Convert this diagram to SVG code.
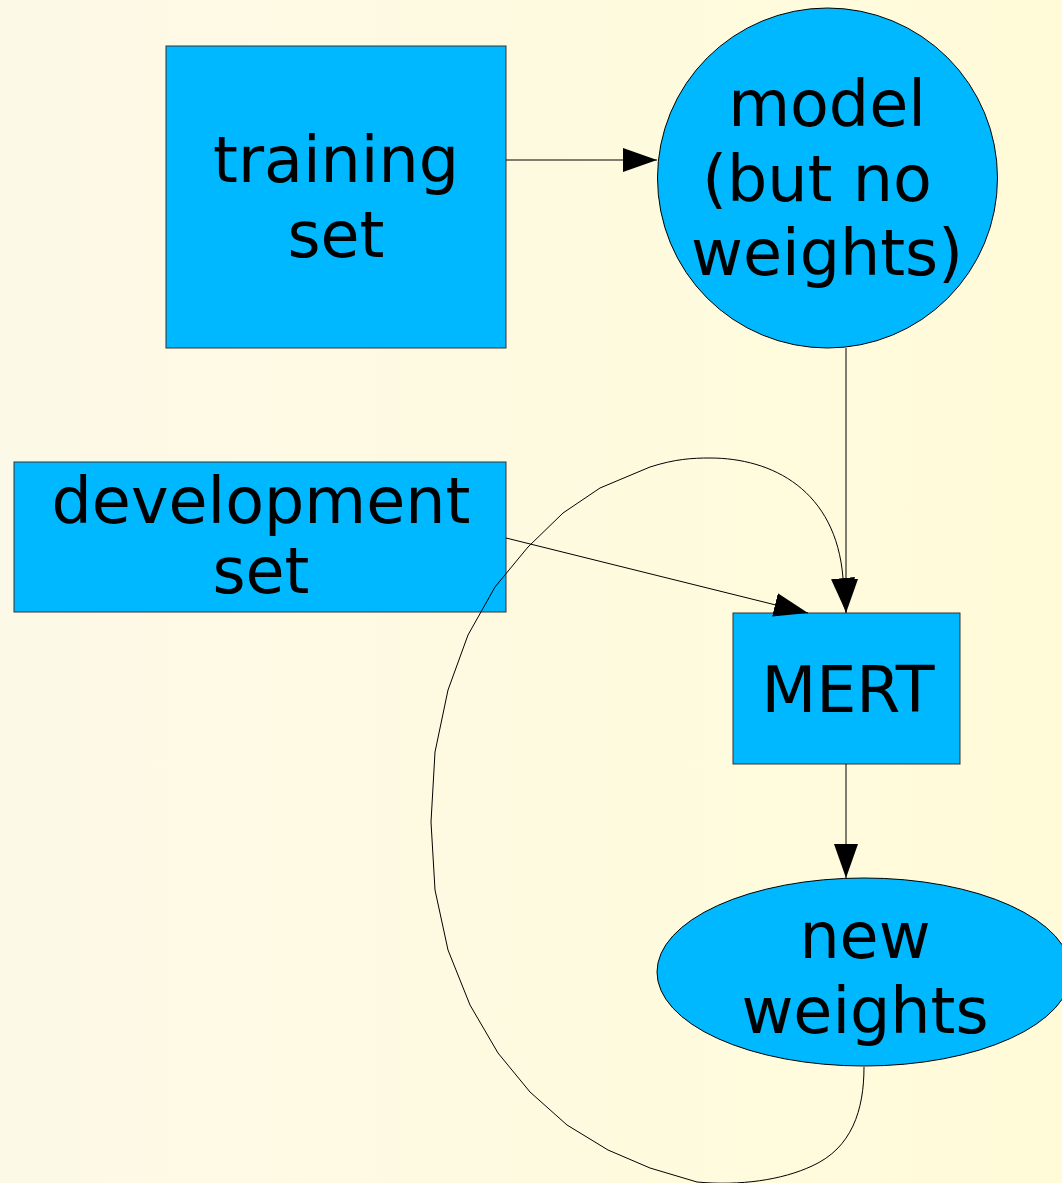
<svg xmlns="http://www.w3.org/2000/svg" width="1062" height="1183" viewBox="0 0 1062 1183">
  <defs>
    <linearGradient id="bg" x1="0" y1="0" x2="1" y2="0">
      <stop offset="0" stop-color="#fdf9e8"/>
      <stop offset="1" stop-color="#fffbd8"/>
    </linearGradient>
    <marker id="arrow" viewBox="0 0 34 24" refX="34" refY="12" markerWidth="34" markerHeight="24" markerUnits="userSpaceOnUse" orient="auto">
      <path d="M0,0 L34,12 L0,24 z" fill="#000"/>
    </marker>
    <style>
      .box { fill: #00b8ff; stroke: #333; stroke-width: 1; }
      .round { fill: #00b8ff; stroke: #000; stroke-width: 1; }
      .label { font-family: "DejaVu Sans", "Liberation Sans", sans-serif; font-size: 63.5px; fill: #000; text-anchor: middle; }
      .edge { fill: none; stroke: #000; stroke-width: 1; marker-end: url(#arrow); }
    </style>
  </defs>

  <rect x="0" y="0" width="1062" height="1183" fill="url(#bg)"/>

  <!-- nodes -->
  <g id="training-set">
    <rect class="box" x="166" y="46" width="340" height="302"/>
    <text class="label" x="336" y="182">training</text>
    <text class="label" x="336" y="257">set</text>
  </g>

  <g id="model">
    <circle class="round" cx="827.5" cy="178" r="170"/>
    <text class="label" x="827" y="126">model</text>
    <text class="label" x="817" y="201">(but no</text>
    <text class="label" x="827" y="275">weights)</text>
  </g>

  <g id="development-set">
    <rect class="box" x="14" y="462" width="492" height="150"/>
    <text class="label" x="261" y="523">development</text>
    <text class="label" x="261" y="593">set</text>
  </g>

  <g id="mert">
    <rect class="box" x="733" y="613" width="227" height="151"/>
    <text class="label" x="848" y="712">MERT</text>
  </g>

  <g id="new-weights">
    <ellipse class="round" cx="864" cy="972" rx="207" ry="94"/>
    <text class="label" x="865" y="958">new</text>
    <text class="label" x="865" y="1033">weights</text>
  </g>

  <!-- connectors, drawn over the nodes -->
  <g id="connectors">
    <path class="edge" d="M506,160 L657,160"/>
    <path class="edge" d="M846,348 L846,613"/>
    <path class="edge" d="M506,538 L808,613"/>
    <path class="edge" d="M846,764 L846,878"/>
    <path class="edge" d="M864,1067 C864,1110 852,1148 812,1166 C782,1180 740,1186 697,1182 L650,1168 L608,1150 L567,1125 L530,1092 L498,1053 L470,1005 L448,950 L435,890 L431,822 L435,752 L448,690 L468,635 L495,587 L528,547 L563,513 L600,488 L650,467 C675,459 692,458 710,458 C772,458 836,490 843,578 L846,612"/>
  </g>
</svg>
